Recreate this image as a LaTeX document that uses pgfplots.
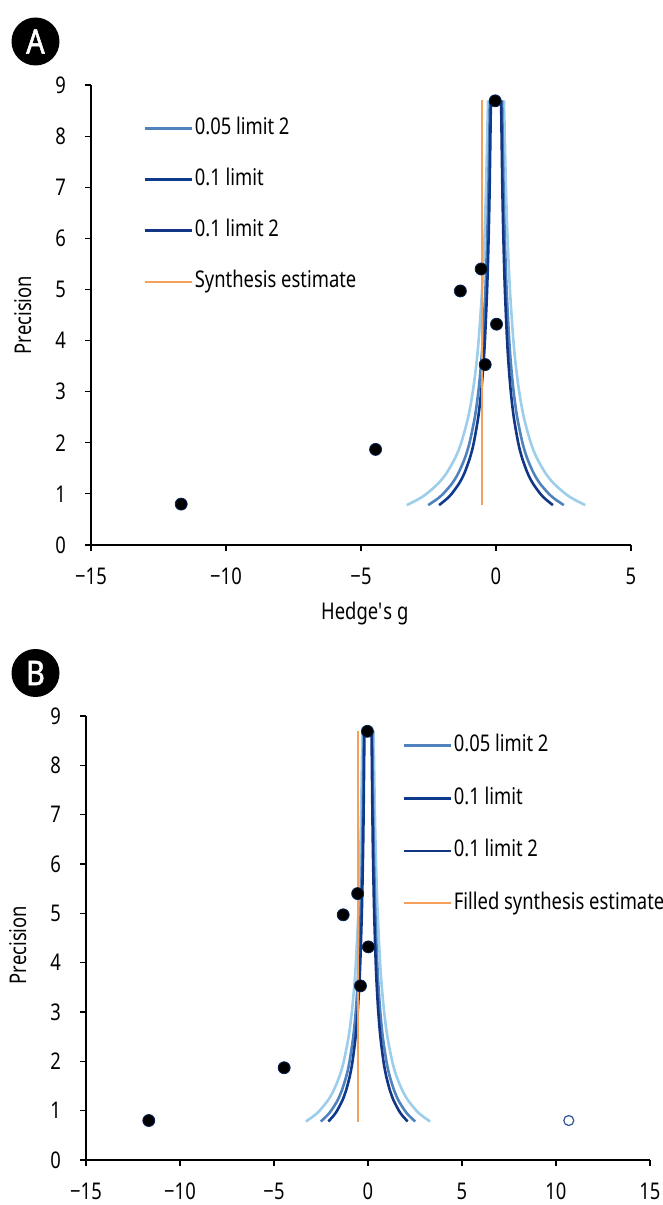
\documentclass[border=0pt]{standalone}
\usepackage{fontspec}
\setmainfont{Noto Sans}[FakeStretch=0.8]
\newfontfamily\badgefont{Noto Sans}[FakeStretch=0.85, FakeBold=1.5]
\usepackage{pgfplots}
\usepackage{pgfplotstable}
\pgfplotsset{compat=1.18}

\definecolor{lim01}{HTML}{9CCDEA}
\definecolor{lim05}{HTML}{5082BE}
\definecolor{lim10}{HTML}{0E3A8E}
\definecolor{lim10b}{HTML}{123683}
\definecolor{synth}{HTML}{F5A05A}
\definecolor{openpt}{HTML}{2F5597}

% funnel limits: x = z / precision (z = 2.576, 1.960, 1.645)
\pgfplotstableread{
p     a      b      c
0.78  3.303  2.513  2.109
0.90  2.862  2.178  1.828
1.00  2.576  1.960  1.645
1.20  2.147  1.633  1.371
1.40  1.840  1.400  1.175
1.70  1.515  1.153  0.968
2.00  1.288  0.980  0.823
2.50  1.030  0.784  0.658
3.00  0.859  0.653  0.548
3.50  0.736  0.560  0.470
4.00  0.644  0.490  0.411
5.00  0.515  0.392  0.329
6.00  0.429  0.327  0.274
7.00  0.368  0.280  0.235
8.70  0.296  0.225  0.189
}\funnel

\pgfplotsset{
  funnelplot/.style={
    scale only axis, anchor=south west,
    ymin=0, ymax=9, ytick={0,1,...,9},
    axis x line=bottom, axis y line=left,
    axis line style={-, black, line width=0.6pt},
    tick style={black, line width=0.6pt}, tick align=outside, major tick length=3pt,
    /pgf/number format/assume math mode=true,
    font=\fontsize{11.5}{13}\selectfont,
    ticklabel style={font=\fontsize{11.5}{13}\selectfont},
    yticklabel shift=6pt, xticklabel shift=5pt,
    ylabel={Precision},
    legend cell align=left,
    legend image code/.code={\draw[#1] (0pt,0pt) -- (23.5pt,0pt);},
    legend style={draw=none, fill=none, anchor=north west, inner sep=0pt,
      column sep=1pt, font=\fontsize{11.5}{13}\selectfont,
      nodes={inner sep=0pt, text height=8.5pt, text depth=2.5pt}},
  },
  curve/.style={line width=1.3pt, smooth},
}

\begin{document}
\begin{tikzpicture}
\path[use as bounding box] (0pt,0pt) rectangle (331.5pt,602.5pt);

\node[circle, fill=black, minimum size=24pt, inner sep=0pt, text=white,
  font=\badgefont\fontsize{17}{17}\selectfont] at (17.75pt,581.75pt) {A};
\node[circle, fill=black, minimum size=24pt, inner sep=0pt, text=white,
  font=\badgefont\fontsize{17}{17}\selectfont] at (17.75pt,266pt) {B};

% ---------------- panel A
\begin{axis}[funnelplot, at={(45.5pt,330pt)}, width=270pt, height=230pt,
  xmin=-15, xmax=5, xtick={-15,-10,-5,0,5}, xticklabels={−15,−10,−5,0,5},
  every axis y label/.style={at={(axis description cs:0,0.5)}, xshift=-34pt, rotate=90, anchor=center},
  every axis x label/.style={at={(axis description cs:0.507,0)}, yshift=-34.5pt, anchor=center},
  xlabel={Hedge\textquotesingle s g},
  legend style={at={(0.096,0.930)}, row sep=14.5pt}]
\addplot[curve, lim01, forget plot] table[x expr=-\thisrow{a}, y=p] {\funnel};
\addplot[curve, lim01, forget plot] table[x=a, y=p] {\funnel};
\addplot[curve, lim05, forget plot] table[x expr=-\thisrow{b}, y=p] {\funnel};
\addplot[curve, lim05] table[x=b, y=p] {\funnel};
\addlegendentry{0.05 limit 2}
\addplot[curve, lim10] table[x expr=-\thisrow{c}, y=p] {\funnel};
\addlegendentry{0.1 limit}
\addplot[curve, lim10b] table[x=c, y=p] {\funnel};
\addlegendentry{0.1 limit 2}
\addplot[synth, line width=1pt] coordinates {(-0.51,0.78) (-0.51,8.70)};
\addlegendentry{Synthesis estimate}
\addplot[only marks, mark=*, mark size=3pt, mark options={fill=black, draw=lim10!60!black}, forget plot]
  coordinates {(-11.66,0.80) (-4.46,1.87) (-1.32,4.97) (-0.55,5.40) (0.02,4.32) (-0.40,3.53) (-0.03,8.69)};
\end{axis}

% ---------------- panel B
\begin{axis}[funnelplot, at={(43pt,22.5pt)}, width=282pt, height=222pt,
  xmin=-15, xmax=15, xtick={-15,-10,...,15}, xticklabels={−15,−10,−5,0,5,10,15},
  every axis y label/.style={at={(axis description cs:0,0.484)}, xshift=-34pt, rotate=90, anchor=center},
  legend style={at={(0.56,0.959)}, row sep=15.3pt}]
\addplot[curve, lim01, forget plot] table[x expr=-\thisrow{a}, y=p] {\funnel};
\addplot[curve, lim01, forget plot] table[x=a, y=p] {\funnel};
\addplot[curve, lim05, forget plot] table[x expr=-\thisrow{b}, y=p] {\funnel};
\addplot[curve, lim05] table[x=b, y=p] {\funnel};
\addlegendentry{0.05 limit 2}
\addplot[curve, lim10] table[x expr=-\thisrow{c}, y=p] {\funnel};
\addlegendentry{0.1 limit}
\addplot[curve, lim10b] table[x=c, y=p] {\funnel};
\addlegendentry{0.1 limit 2}
\addplot[synth, line width=1pt] coordinates {(-0.52,0.78) (-0.52,8.70)};
\addlegendentry{Filled synthesis estimate}
\addplot[only marks, mark=*, mark size=3pt, mark options={fill=black, draw=lim10!60!black}, forget plot]
  coordinates {(-11.66,0.80) (-4.46,1.87) (-1.32,4.97) (-0.55,5.40) (0.02,4.32) (-0.40,3.53) (-0.03,8.69)};
\addplot[only marks, mark=o, mark size=2.5pt, mark options={draw=openpt, fill=white, line width=0.6pt}, forget plot]
  coordinates {(10.68,0.80)};
\end{axis}
\end{tikzpicture}
\end{document}
